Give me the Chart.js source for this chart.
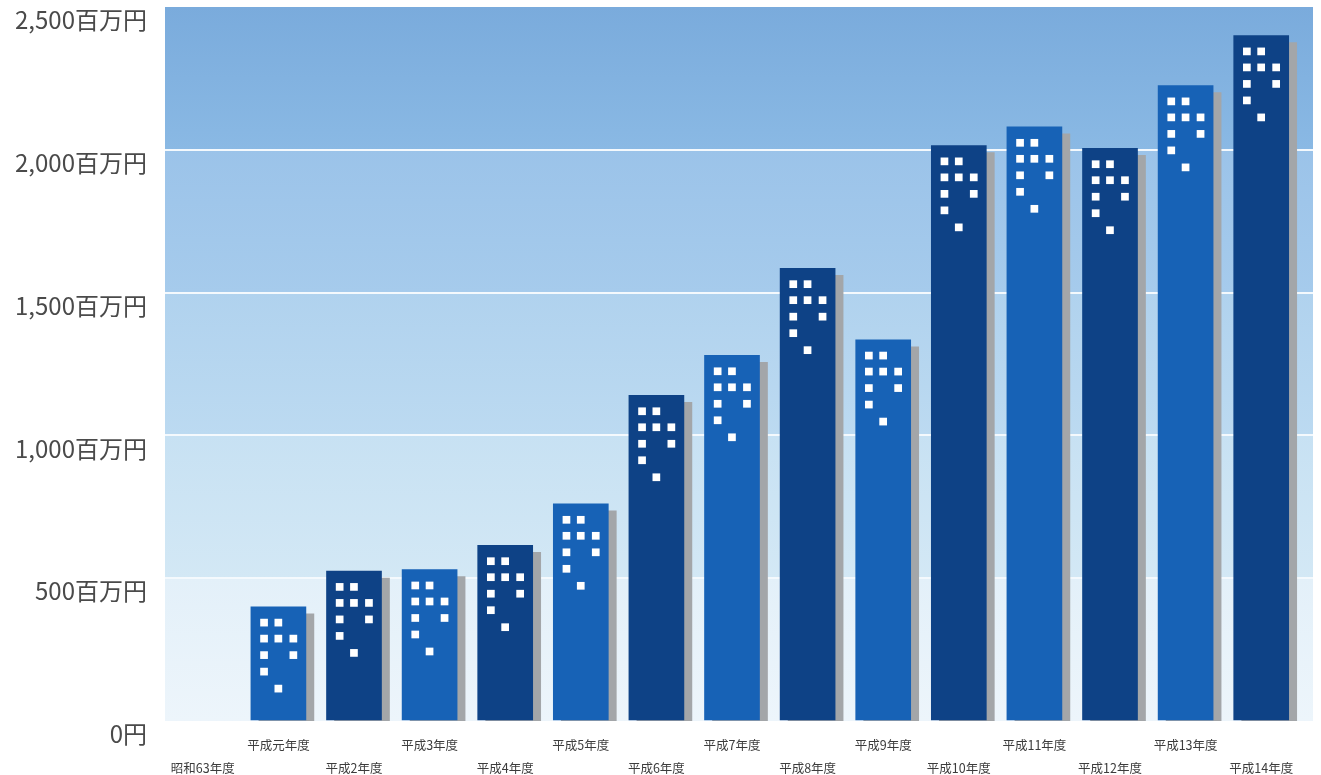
<!DOCTYPE html>
<html lang="ja">
<head>
<meta charset="utf-8">
<script src="https://cdn.jsdelivr.net/npm/chart.js@4.4.1/dist/chart.umd.min.js"></script>
<style>
  html, body { margin: 0; padding: 0; background: #fff; }
  #wrap { width: 1321px; height: 775px; position: relative; }
</style>
</head>
<body>
<div id="wrap"><canvas id="chart"></canvas></div>
<script>
// data (百万円)
const years = ["昭和63年度","平成元年度","平成2年度","平成3年度","平成4年度","平成5年度","平成6年度",
  "平成7年度","平成8年度","平成9年度","平成10年度","平成11年度","平成12年度","平成13年度","平成14年度"];
const amounts = [null,400,525,530,615,760,1140,1280,1585,1335,2015,2080,2005,2225,2400];
const yTickValues = [0,500,1000,1500,2000,2500];
const yTickLabels = ["0円","500百万円","1,000百万円","1,500百万円","2,000百万円","2,500百万円"];

// styles
const darkBar = "#0e4286";
const lightBar = "#1762b6";
const shadowColor = "#a3a6a9";
// band gradients, bottom to top: [bottom colour, top colour]
const bands = [
  ["#edf5fb","#e3f0f9"],
  ["#d3e8f5","#c7e1f3"],
  ["#bcdaf1","#b0d2ee"],
  ["#a6cbec","#9bc3e9"],
  ["#8ab9e4","#7aabdc"]
];
// window squares on every building: [col,row]
const windowCells = [[0,0],[1,0],[0,1],[1,1],[2,1],[0,2],[2,2],[0,3],[1,4]];
const winCols = [9.3,23.6,38.6];
const winRows = [12,28,44.5,61,78];
const winSize = 7.7;

const bandPlugin = {
  id: 'bands',
  beforeDraw(chart) {
    const {ctx, chartArea} = chart;
    const y = chart.scales.y;
    ctx.save();
    for (let i = 0; i < bands.length; i++) {
      const yb = y.getPixelForValue(yTickValues[i]);
      const yt = y.getPixelForValue(yTickValues[i + 1]);
      const g = ctx.createLinearGradient(0, yb, 0, yt);
      g.addColorStop(0, bands[i][0]);
      g.addColorStop(1, bands[i][1]);
      ctx.fillStyle = g;
      ctx.fillRect(chartArea.left, yt, chartArea.right - chartArea.left, yb - yt);
    }
    ctx.restore();
  }
};

const shadowPlugin = {
  id: 'barShadow',
  beforeDatasetDraw(chart) {
    const ctx = chart.ctx;
    ctx.save();
    ctx.shadowColor = shadowColor;
    ctx.shadowOffsetX = 8;
    ctx.shadowOffsetY = 7;
    ctx.shadowBlur = 0;
  },
  afterDatasetDraw(chart) {
    chart.ctx.restore();
  }
};

const windowPlugin = {
  id: 'windows',
  afterDatasetsDraw(chart) {
    const ctx = chart.ctx;
    const meta = chart.getDatasetMeta(0);
    ctx.save();
    ctx.fillStyle = "#ffffff";
    meta.data.forEach((bar, i) => {
      if (amounts[i] == null) return;
      const p = bar.getProps(['x','y','width'], true);
      const left = p.x - p.width / 2;
      windowCells.forEach(c => {
        ctx.fillRect(left + winCols[c[0]], p.y + winRows[c[1]], winSize, winSize);
      });
    });
    ctx.restore();
  }
};

new Chart(document.getElementById("chart"), {
  type: 'bar',
  data: {
    datasets: [{
      data: years.map((y, i) => ({x: i, y: amounts[i]})),
      backgroundColor: years.map((y, i) => i % 2 ? lightBar : darkBar),
      borderWidth: 0,
      barThickness: 55
    }]
  },
  options: {
    responsive: true,
    maintainAspectRatio: false,
    animation: false,
    layout: { padding: { top: 7, right: 8, left: 0, bottom: 0 } },
    plugins: { legend: { display: false }, tooltip: { enabled: false } },
    scales: {
      x: {
        type: 'linear',
        offset: false,
        min: -0.5,
        max: 14.685,
        afterBuildTicks: axis => { axis.ticks = years.map((y, i) => ({value: i})); },
        afterFit: axis => { axis.height = 54; axis.paddingLeft = 0; axis.paddingRight = 0; },
        grid: { display: false },
        border: { display: false },
        ticks: {
          autoSkip: false,
          maxRotation: 0,
          padding: 5,
          color: "#3c3c3c",
          font: { family: "'Noto Sans CJK JP', sans-serif", size: 12.5, lineHeight: '23px' },
          callback: (v) => v % 2 ? [years[v], ''] : ['', years[v]]
        }
      },
      y: {
        min: 0,
        max: 2500,
        afterBuildTicks: axis => { axis.ticks = yTickValues.map(v => ({value: v})); },
        afterFit: axis => { axis.width = 165; axis.paddingTop = 0; axis.paddingBottom = 0; },
        grid: {
          drawTicks: false,
          lineWidth: 2,
          color: c => (c.tick.value > 0 && c.tick.value < 2500) ? "#f4f9fd" : "rgba(0,0,0,0)"
        },
        border: { display: false },
        ticks: {
          padding: 18,
          labelOffset: 13,
          color: "#4a4a4a",
          font: { family: "'Noto Sans CJK JP', sans-serif", size: 24 },
          callback: (v, i) => yTickLabels[yTickValues.indexOf(v)]
        }
      }
    }
  },
  plugins: [bandPlugin, shadowPlugin, windowPlugin]
});
</script>
</body>
</html>
